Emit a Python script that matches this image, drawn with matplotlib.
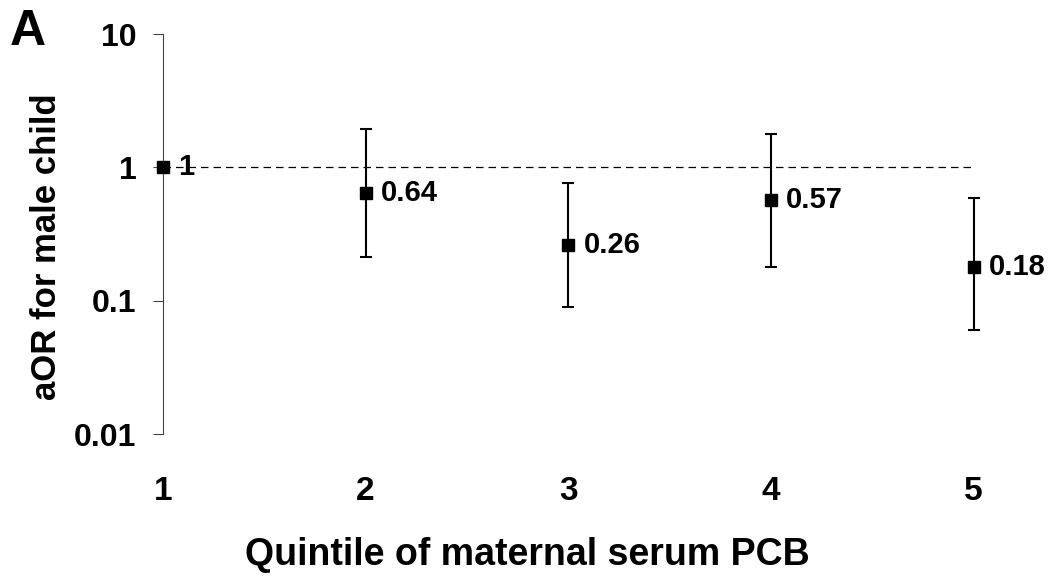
import numpy as np
import matplotlib.pyplot as plt

plt.rcParams['font.family'] = ['Liberation Sans', 'DejaVu Sans']
plt.rcParams['font.weight'] = 'bold'

quintile = [1, 2, 3, 4, 5]
aor = [1.0, 0.64, 0.26, 0.57, 0.18]
ci_low = [1.0, 0.214, 0.09, 0.178, 0.06]
ci_high = [1.0, 1.94, 0.77, 1.78, 0.585]
labels = ['1', '0.64', '0.26', '0.57', '0.18']

fig = plt.figure(figsize=(10.55, 5.76), dpi=100)
ax = fig.add_axes([0.1545, 0.2465, 0.778, 0.6944])

x = np.array(quintile)
y = np.array(aor)
lo = y - np.array(ci_low)
hi = np.array(ci_high) - y

# reference line at OR = 1
ax.plot(x, np.ones_like(x, dtype=float), color='black', lw=0.9, ls=(0, (6, 4)), zorder=1)

ax.errorbar(x[1:], y[1:], yerr=[lo[1:], hi[1:]], fmt='none', ecolor='black',
            elinewidth=1.5, capsize=4.6, capthick=1.5, zorder=2)
ax.plot(x, y, 's', color='black', ms=9, zorder=3, clip_on=False)

for xi, yi, lab in zip(x, y, labels):
    ax.annotate(lab, (xi, yi), xytext=(11, 0), textcoords='offset points',
                va='center', ha='left', fontsize=21, fontweight='bold')

ax.set_yscale('log')
ax.set_ylim(0.01, 10)
ax.set_xlim(1, 5.05)
ax.set_yticks([0.01, 0.1, 1, 10])
ax.set_yticklabels(['0.01', '0.1', '1', '10'])
ax.minorticks_off()
ax.set_xticks(quintile)
ax.set_xticklabels([str(q) for q in quintile])

for s in ['top', 'right', 'bottom']:
    ax.spines[s].set_visible(False)
ax.spines['left'].set_color('#404040')
ax.spines['left'].set_linewidth(0.8)

ax.tick_params(axis='y', direction='out', length=7, width=0.8, color='#404040', pad=12, labelsize=23)
ax.tick_params(axis='x', length=0, pad=30, labelsize=24)

fig.text(527 / 1055, 1 - 565 / 576, 'Quintile of maternal serum PCB', fontsize=27,
         fontweight='bold', ha='center', va='baseline')
fig.text(47 / 1055, 1 - 247 / 576, 'aOR for male child', fontsize=25,
         fontweight='bold', ha='center', va='center', rotation=90)

fig.text(0.009, 0.985, 'A', fontsize=36, fontweight='bold', va='top', ha='left')

fig.savefig('out.png', dpi=100)
